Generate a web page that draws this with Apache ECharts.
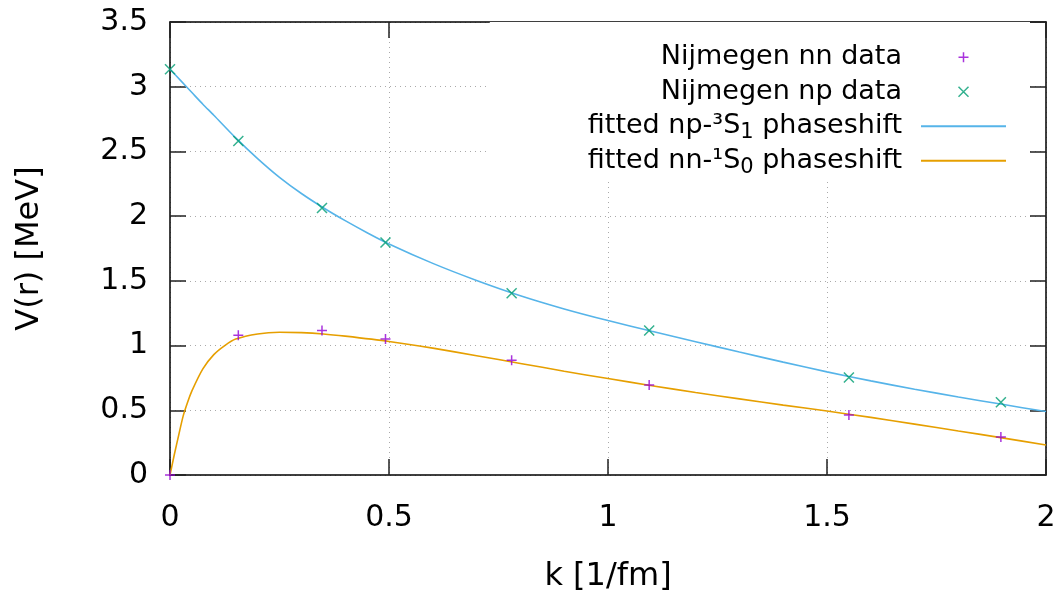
<!DOCTYPE html>
<html>
<head>
<meta charset="utf-8">
<script src="https://cdn.jsdelivr.net/npm/echarts@6/dist/echarts.min.js"></script>
<style>html,body{margin:0;padding:0;background:#fff}#c{width:1064px;height:593px}</style>
</head>
<body>
<div id="c"></div>
<script>
// ---- data ----
const xTicks = [0, 0.5, 1, 1.5, 2];
const yTicks = [0, 0.5, 1, 1.5, 2, 2.5, 3, 3.5];

const nnK = [0, 0.156, 0.347, 0.492, 0.78, 1.094, 1.55, 1.897];
const nnV = [0, 1.08, 1.116, 1.05, 0.886, 0.695, 0.463, 0.294];

const npK = [0, 0.156, 0.347, 0.492, 0.78, 1.094, 1.55, 1.897];
const npV = [3.135, 2.58, 2.063, 1.796, 1.404, 1.116, 0.753, 0.562];

const npFitK = [0, 0.025, 0.05, 0.075, 0.1, 0.15, 0.2, 0.25, 0.3, 0.35, 0.4, 0.45, 0.5, 0.6, 0.7, 0.8, 0.9, 1.0, 1.1, 1.2, 1.3, 1.4, 1.5, 1.6, 1.7, 1.8, 1.9, 2.0];
const npFitV = [3.135, 3.045, 2.955, 2.865, 2.78, 2.605, 2.445, 2.30, 2.175, 2.065, 1.965, 1.872, 1.785, 1.635, 1.503, 1.385, 1.283, 1.193, 1.11, 1.03, 0.95, 0.872, 0.797, 0.727, 0.663, 0.603, 0.546, 0.49];

const nnFitK = [0, 0.01, 0.02, 0.03, 0.04, 0.05, 0.075, 0.1, 0.125, 0.15, 0.2, 0.25, 0.3, 0.35, 0.4, 0.5, 0.6, 0.7, 0.8, 0.9, 1.0, 1.1, 1.2, 1.3, 1.4, 1.5, 1.6, 1.7, 1.8, 1.9, 2.0];
const nnFitV = [0, 0.16, 0.31, 0.455, 0.56, 0.65, 0.82, 0.93, 1.0, 1.05, 1.09, 1.103, 1.10, 1.09, 1.073, 1.032, 0.98, 0.922, 0.862, 0.802, 0.745, 0.69, 0.637, 0.588, 0.54, 0.494, 0.445, 0.393, 0.34, 0.287, 0.232];

const names = ['Nijmegen nn data', 'Nijmegen np data', 'fitted np-³S₁ phaseshift', 'fitted nn-¹S₀ phaseshift'];
const xTitle = 'k [1/fm]';
const yTitle = 'V(r) [MeV]';

// ---- build ----
const zip = (a, b) => a.map((v, i) => [v, b[i]]);
const FONT = 'DejaVu Sans';
const PLUS = 'path://M0,5L10,5M5,0L5,10';
const CROSS = 'path://M0,0L10,10M10,0L0,10';
const cPurple = '#9400d3', cGreen = '#009e73', cBlue = '#56b4e9', cOrange = '#e69f00';

const legendFmt = function (name) {
  let s;
  if (name === names[2]) s = '{a|fitted np-³S}{s|1}{a| phaseshift}';
  else if (name === names[3]) s = '{a|fitted nn-¹S}{s|0}{a| phaseshift}';
  else s = '{a|' + name + '}';
  return s + '{g|}';
};

const axisCommon = {
  type: 'value',
  axisLine: { show: true, onZero: false, lineStyle: { color: '#000', width: 1.5 } },
  axisTick: { show: true, inside: true, length: 16, lineStyle: { color: '#222', width: 1.5 } },
  minorTick: { show: false }
};

const chart = echarts.init(document.getElementById('c'), null, { renderer: 'canvas' });
chart.setOption({
  animation: false,
  backgroundColor: '#fff',
  grid: { left: 170, right: 18, top: 22, bottom: 118, containLabel: false, outerBoundsMode: 'none' },
  xAxis: [
    Object.assign({}, axisCommon, {
      position: 'bottom', min: xTicks[0], max: xTicks[xTicks.length - 1], interval: 0.5,
      name: xTitle, nameLocation: 'middle', nameGap: 86,
      nameTextStyle: { fontFamily: FONT, fontSize: 32, color: '#000' },
      axisLabel: { fontFamily: FONT, fontSize: 30, color: '#000', margin: 28 },
      splitLine: { show: true, lineStyle: { type: [1, 4], color: '#aaa', width: 1 } }
    }),
    Object.assign({}, axisCommon, {
      position: 'top', min: xTicks[0], max: xTicks[xTicks.length - 1], interval: 0.5,
      axisLabel: { show: false }, splitLine: { show: false }
    })
  ],
  yAxis: [
    Object.assign({}, axisCommon, {
      position: 'left', min: yTicks[0], max: yTicks[yTicks.length - 1], interval: 0.5,
      name: yTitle, nameLocation: 'middle', nameGap: 124, nameRotate: 90,
      nameTextStyle: { fontFamily: FONT, fontSize: 32, color: '#000' },
      axisLabel: { fontFamily: FONT, fontSize: 30, color: '#000', margin: 22 },
      splitLine: { show: true, lineStyle: { type: [1, 4], color: '#aaa', width: 1 } }
    }),
    Object.assign({}, axisCommon, {
      position: 'right', min: yTicks[0], max: yTicks[yTicks.length - 1], interval: 0.5,
      axisLabel: { show: false }, splitLine: { show: false }
    })
  ],
  legend: {
    orient: 'vertical', align: 'right', right: 34, top: 22,
    padding: [18, 23, 2, 98], itemGap: 0, itemWidth: 85, itemHeight: 10,
    backgroundColor: '#fff', selectedMode: false,
    formatter: legendFmt,
    textStyle: {
      fontFamily: FONT, fontSize: 27, lineHeight: 34.5, color: '#000',
      rich: {
        a: { fontFamily: FONT, fontSize: 27, lineHeight: 34.5, color: '#000' },
        s: { fontFamily: FONT, fontSize: 21, lineHeight: 21, verticalAlign: 'bottom', color: '#000' },
        g: { width: 14, lineHeight: 34.5 }
      }
    },
    data: [
      { name: names[0], icon: PLUS, itemStyle: { color: 'transparent', borderColor: cPurple, borderWidth: 1.5 } },
      { name: names[1], icon: CROSS, itemStyle: { color: 'transparent', borderColor: cGreen, borderWidth: 1.5 } },
      { name: names[2], itemStyle: { color: 'transparent', opacity: 0, borderWidth: 0 } },
      { name: names[3], itemStyle: { color: 'transparent', opacity: 0, borderWidth: 0 } }
    ]
  },
  series: [
    {
      name: names[2], type: 'line', xAxisIndex: 0, yAxisIndex: 0, z: 2,
      data: zip(npFitK, npFitV), showSymbol: false, symbol: 'none', smooth: 0.25,
      lineStyle: { color: cBlue, width: 1.6 }, itemStyle: { color: cBlue }
    },
    {
      name: names[3], type: 'line', xAxisIndex: 0, yAxisIndex: 0, z: 2,
      data: zip(nnFitK, nnFitV), showSymbol: false, symbol: 'none', smooth: 0.25,
      lineStyle: { color: cOrange, width: 1.6 }, itemStyle: { color: cOrange }
    },
    {
      name: names[0], type: 'scatter', xAxisIndex: 0, yAxisIndex: 0, z: 3, clip: false,
      data: zip(nnK, nnV), symbol: PLUS, symbolSize: 10,
      itemStyle: { color: 'transparent', borderColor: cPurple, borderWidth: 1.5 }
    },
    {
      name: names[1], type: 'scatter', xAxisIndex: 0, yAxisIndex: 0, z: 3, clip: false,
      data: zip(npK, npV), symbol: CROSS, symbolSize: 10,
      itemStyle: { color: 'transparent', borderColor: cGreen, borderWidth: 1.5 }
    }
  ]
});
</script>
</body>
</html>
